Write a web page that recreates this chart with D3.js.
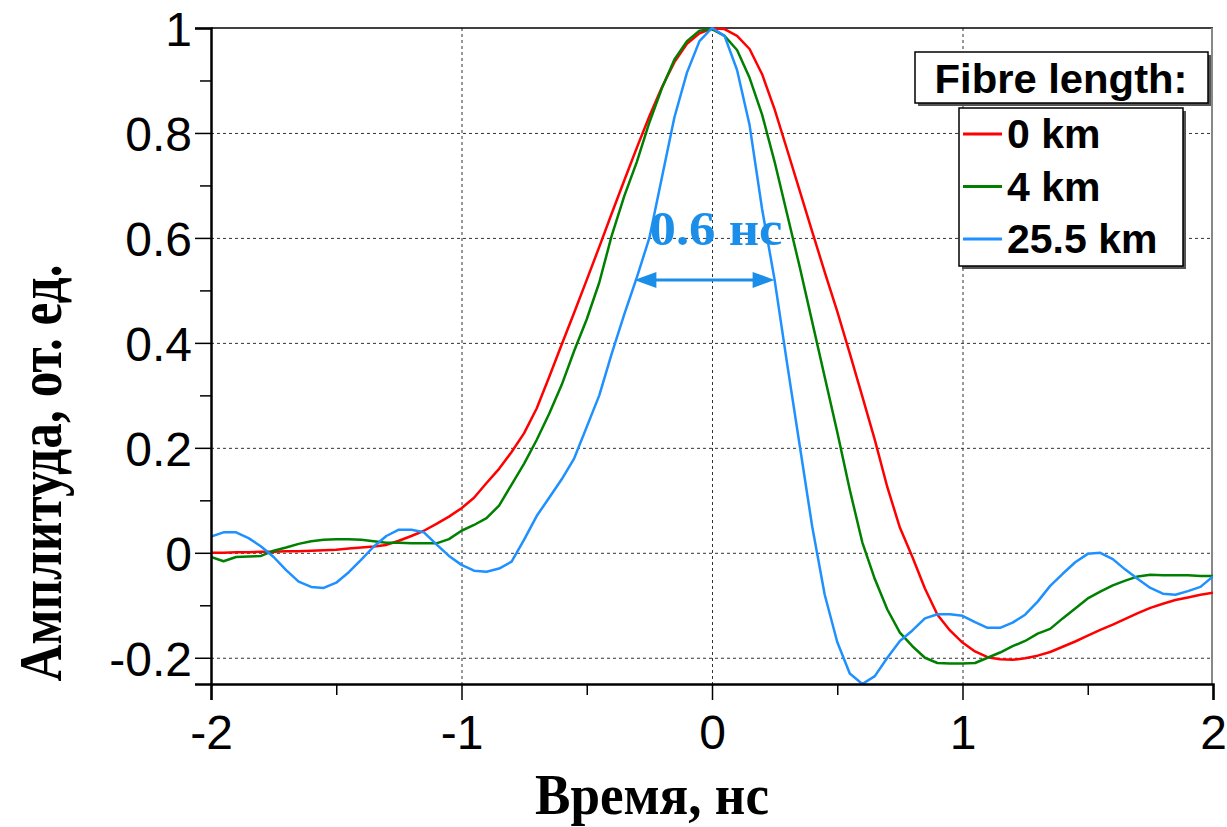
<!DOCTYPE html>
<html lang="ru">

<head>
    <meta charset="UTF-8">
    <title>Амплитуда импульса</title>
    <script src="https://d3js.org/d3.v7.min.js"></script>
    <style>
        body {
            margin: 0;
            background: #fff;
        }

        svg {
            display: block;
        }

        .grid line {
            stroke: #333;
            stroke-width: 1;
            stroke-dasharray: 3, 3;
        }

        .tick-label {
            font-family: "Liberation Sans", Arial, sans-serif;
            font-size: 48px;
            fill: #000;
        }

        .axis-title {
            font-family: "Liberation Serif", "Times New Roman", serif;
            font-weight: bold;
            fill: #000;
        }

        .legend text {
            font-family: "Liberation Sans", Arial, sans-serif;
            font-weight: bold;
            fill: #000;
        }
    </style>
</head>

<body>
    <svg></svg>
    <script>
        const width = 1227;
        const height = 827;

        // time axis, ns
        const time = [
            -2.00, -1.95, -1.90, -1.85, -1.80, -1.75, -1.70, -1.65, -1.60, -1.55,
            -1.50, -1.45, -1.40, -1.35, -1.30, -1.25, -1.20, -1.15, -1.10, -1.05,
            -1.00, -0.95, -0.90, -0.85, -0.80, -0.75, -0.70, -0.65, -0.60, -0.55,
            -0.50, -0.45, -0.40, -0.35, -0.30, -0.25, -0.20, -0.15, -0.10, -0.05,
            0.00, 0.05, 0.10, 0.15, 0.20, 0.25, 0.30, 0.35, 0.40, 0.45,
            0.50, 0.55, 0.60, 0.65, 0.70, 0.75, 0.80, 0.85, 0.90, 0.95,
            1.00, 1.05, 1.10, 1.15, 1.20, 1.25, 1.30, 1.35, 1.40, 1.45,
            1.50, 1.55, 1.60, 1.65, 1.70, 1.75, 1.80, 1.85, 1.90, 1.95,
            2.00
        ];

        // 0 km
        const amp0km = [
            0.000, 0.000, 0.001, 0.001, 0.002, 0.002, 0.003, 0.003, 0.004, 0.005,
            0.006, 0.008, 0.010, 0.012, 0.015, 0.023, 0.032, 0.042, 0.055, 0.069,
            0.085, 0.105, 0.133, 0.160, 0.192, 0.228, 0.275, 0.335, 0.397, 0.458,
            0.520, 0.583, 0.647, 0.710, 0.772, 0.832, 0.887, 0.935, 0.970, 0.990,
            0.999, 0.998, 0.985, 0.960, 0.912, 0.845, 0.768, 0.690, 0.612, 0.535,
            0.460, 0.380, 0.298, 0.215, 0.125, 0.048, -0.008, -0.068, -0.118, -0.148,
            -0.171, -0.188, -0.199, -0.203, -0.204, -0.201, -0.196, -0.189, -0.179, -0.169,
            -0.158, -0.147, -0.137, -0.126, -0.115, -0.105, -0.097, -0.090, -0.085, -0.080,
            -0.076
        ];

        // 4 km
        const amp4km = [
            -0.008, -0.016, -0.008, -0.007, -0.006, 0.004, 0.010, 0.017, 0.022, 0.025,
            0.026, 0.026, 0.025, 0.022, 0.019, 0.019, 0.018, 0.018, 0.018, 0.026,
            0.042, 0.053, 0.066, 0.090, 0.130, 0.170, 0.215, 0.265, 0.320, 0.385,
            0.445, 0.515, 0.605, 0.680, 0.745, 0.820, 0.885, 0.940, 0.975, 0.995,
            0.998, 0.985, 0.958, 0.905, 0.835, 0.745, 0.645, 0.545, 0.440, 0.335,
            0.230, 0.120, 0.020, -0.050, -0.108, -0.152, -0.178, -0.200, -0.210, -0.211,
            -0.211, -0.210, -0.200, -0.190, -0.178, -0.168, -0.154, -0.145, -0.125, -0.106,
            -0.087, -0.074, -0.062, -0.053, -0.045, -0.042, -0.043, -0.043, -0.043, -0.044,
            -0.044
        ];

        // 25.5 km
        const amp25km = [
            0.031, 0.039, 0.039, 0.028, 0.012, -0.008, -0.033, -0.055, -0.065, -0.067,
            -0.057, -0.037, -0.013, 0.012, 0.032, 0.044, 0.044, 0.039, 0.016, -0.006,
            -0.023, -0.034, -0.036, -0.030, -0.017, 0.025, 0.070, 0.105, 0.140, 0.180,
            0.240, 0.300, 0.380, 0.455, 0.525, 0.600, 0.715, 0.830, 0.915, 0.975,
            1.000, 0.985, 0.920, 0.815, 0.655, 0.520, 0.360, 0.205, 0.050, -0.080,
            -0.170, -0.230, -0.250, -0.235, -0.200, -0.168, -0.148, -0.125, -0.117, -0.117,
            -0.120, -0.132, -0.143, -0.143, -0.133, -0.118, -0.093, -0.063, -0.040, -0.018,
            -0.002, 0.000, -0.012, -0.032, -0.050, -0.067, -0.078, -0.080, -0.073, -0.065,
            -0.045
        ];

        const seriesNames = ["0 km", "4 km", "25.5 km"];
        const seriesColors = ["#ff0000", "#008000", "#1e90ff"];
        const seriesValues = [amp0km, amp4km, amp25km];

        const xTicks = [-2, -1, 0, 1, 2];
        const xMinorTicks = [-1.5, -0.5, 0.5, 1.5];
        const yTicks = [1, 0.8, 0.6, 0.4, 0.2, 0, -0.2];
        const yMinorTicks = [0.9, 0.7, 0.5, 0.3, 0.1, -0.1];
        const xGrid = [-1, 0, 1];
        const yGrid = [0.8, 0.6, 0.4, 0.2, 0, -0.2];

        // FWHM marker of the 25.5 km pulse
        const fwhmStart = -0.31;
        const fwhmEnd = 0.25;
        const fwhmLevel = 0.52;
        const fwhmLabel = "0.6 нс";

        const margin = { top: 28, right: 14, bottom: 143, left: 211 };

        const svg = d3.select("svg")
            .attr("width", width)
            .attr("height", height);

        const x = d3.scaleLinear()
            .domain([-2, 2])
            .range([margin.left, width - margin.right]);

        const y = d3.scaleLinear()
            .domain([-0.25, 1])
            .range([height - margin.bottom, margin.top]);

        // plain hyphen for negatives, as in the original
        const fmt = d => String(+d.toFixed(1));

        svg.append("defs").append("clipPath")
            .attr("id", "plot-clip")
            .append("rect")
            .attr("x", x(-2))
            .attr("y", y(1) - 2)
            .attr("width", x(2) - x(-2))
            .attr("height", y(-0.25) - y(1) + 2);

        // grid
        const grid = svg.append("g").attr("class", "grid");
        grid.selectAll(".vgrid")
            .data(xGrid)
            .enter().append("line")
            .attr("x1", d => x(d) + 0.5)
            .attr("x2", d => x(d) + 0.5)
            .attr("y1", y(1))
            .attr("y2", y(-0.25));
        grid.selectAll(".hgrid")
            .data(yGrid)
            .enter().append("line")
            .attr("x1", x(-2))
            .attr("x2", x(2))
            .attr("y1", d => y(d) + 0.5)
            .attr("y2", d => y(d) + 0.5);

        // frame: top black, right grey
        svg.append("line")
            .attr("x1", x(-2)).attr("x2", x(2))
            .attr("y1", y(1)).attr("y2", y(1))
            .attr("stroke", "#000").attr("stroke-width", 1.5);
        svg.append("line")
            .attr("x1", x(2) - 1).attr("x2", x(2) - 1)
            .attr("y1", y(1)).attr("y2", y(-0.25))
            .attr("stroke", "#888").attr("stroke-width", 2);

        // curves
        const line = d3.line()
            .x((d, i) => x(time[i]))
            .y(d => y(d));

        svg.append("g")
            .attr("clip-path", "url(#plot-clip)")
            .selectAll("path")
            .data(seriesValues)
            .enter().append("path")
            .attr("d", d => line(d))
            .attr("fill", "none")
            .attr("stroke", (d, i) => seriesColors[i])
            .attr("stroke-width", 2.5)
            .attr("stroke-linejoin", "round");

        // axes
        const xAxis = svg.append("g")
            .attr("transform", `translate(0,${y(-0.25)})`)
            .call(d3.axisBottom(x).tickValues(xTicks).tickSize(16).tickFormat(fmt).tickPadding(14));
        xAxis.append("g")
            .call(d3.axisBottom(x).tickValues(xMinorTicks).tickSize(11).tickFormat(""))
            .select(".domain").remove();

        const yAxis = svg.append("g")
            .attr("transform", `translate(${x(-2)},0)`)
            .call(d3.axisLeft(y).tickValues(yTicks).tickSize(16).tickPadding(3).tickFormat(fmt));
        yAxis.append("g")
            .call(d3.axisLeft(y).tickValues(yMinorTicks).tickSize(11).tickFormat(""))
            .select(".domain").remove();

        [xAxis, yAxis].forEach(ax => {
            ax.attr("font-size", null).attr("font-family", null);
            ax.selectAll(".domain").attr("stroke", "#000").attr("stroke-width", 2.5);
            ax.selectAll(".tick line").attr("stroke", "#000").attr("stroke-width", 1.5);
            ax.selectAll(".tick text").attr("class", "tick-label");
        });
        yAxis.selectAll(".tick text").attr("dy", "0.36em");
        xAxis.selectAll(".tick text").attr("dy", "0.72em");

        // axis titles
        svg.append("text")
            .attr("class", "axis-title")
            .attr("x", 652)
            .attr("y", 814)
            .attr("text-anchor", "middle")
            .attr("font-size", 58)
            .attr("textLength", 234)
            .attr("lengthAdjust", "spacingAndGlyphs")
            .text("Время, нс");

        svg.append("text")
            .attr("class", "axis-title")
            .attr("transform", "translate(61,473) rotate(-90)")
            .attr("text-anchor", "middle")
            .attr("font-size", 62)
            .attr("textLength", 417)
            .attr("lengthAdjust", "spacingAndGlyphs")
            .text("Амплитуда, от. ед.");

        // FWHM arrow
        const annColor = "#1a8ee8";
        const ay = y(fwhmLevel);
        const ax1 = x(fwhmStart);
        const ax2 = x(fwhmEnd);
        const ann = svg.append("g");
        ann.append("line")
            .attr("x1", ax1 + 18).attr("x2", ax2 - 18)
            .attr("y1", ay).attr("y2", ay)
            .attr("stroke", annColor).attr("stroke-width", 3);
        ann.append("path")
            .attr("d", `M${ax1},${ay} L${ax1 + 22},${ay - 8} L${ax1 + 22},${ay + 8} Z`)
            .attr("fill", annColor);
        ann.append("path")
            .attr("d", `M${ax2},${ay} L${ax2 - 22},${ay - 8} L${ax2 - 22},${ay + 8} Z`)
            .attr("fill", annColor);
        ann.append("text")
            .attr("x", 716)
            .attr("y", 245)
            .attr("text-anchor", "middle")
            .attr("font-family", "'Liberation Serif', 'Times New Roman', serif")
            .attr("font-weight", "bold")
            .attr("font-size", 48)
            .attr("textLength", 133)
            .attr("lengthAdjust", "spacingAndGlyphs")
            .attr("fill", annColor)
            .text(fwhmLabel);

        // legend
        const legend = svg.append("g").attr("class", "legend");

        legend.append("rect")
            .attr("x", 918).attr("y", 55).attr("width", 293).attr("height", 51)
            .attr("fill", "#555");
        legend.append("rect")
            .attr("x", 915).attr("y", 52).attr("width", 293).attr("height", 51)
            .attr("fill", "#fff").attr("stroke", "#000").attr("stroke-width", 1.5);
        legend.append("text")
            .attr("x", 1061).attr("y", 93)
            .attr("text-anchor", "middle")
            .attr("font-size", 40)
            .attr("textLength", 253)
            .attr("lengthAdjust", "spacingAndGlyphs")
            .text("Fibre length:");

        legend.append("rect")
            .attr("x", 962).attr("y", 111).attr("width", 224).attr("height", 158)
            .attr("fill", "#555");
        legend.append("rect")
            .attr("x", 959).attr("y", 108).attr("width", 224).attr("height", 158)
            .attr("fill", "#fff").attr("stroke", "#000").attr("stroke-width", 1.5);

        const items = legend.selectAll(".item")
            .data(seriesNames)
            .enter().append("g")
            .attr("transform", (d, i) => `translate(0,${134 + i * 52.5})`);
        items.append("line")
            .attr("x1", 963).attr("x2", 1002)
            .attr("y1", 0).attr("y2", 0)
            .attr("stroke", (d, i) => seriesColors[i])
            .attr("stroke-width", 3);
        items.append("text")
            .attr("x", 1007)
            .attr("y", 14)
            .attr("font-size", 41)
            .text(d => d);
    </script>
</body>

</html>
